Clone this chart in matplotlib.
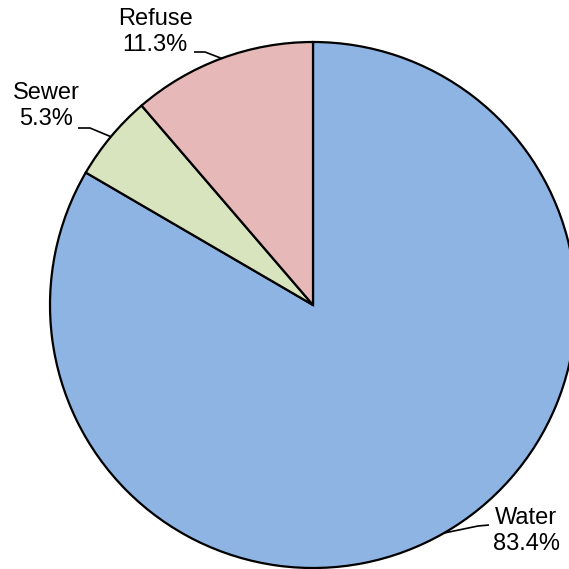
import numpy as np
import matplotlib
matplotlib.use("Agg")
import matplotlib.pyplot as plt

categories = ["Water", "Sewer", "Refuse"]
shares = [83.4, 5.3, 11.3]
colors = ["#8EB4E3", "#D7E4BD", "#E6B9B8"]

W = H = 569
CX, CY, R = 313, 305, 263  # pixel geometry of the pie

def px(x, y):
    return ((x - CX) / R, (CY - y) / R)

fig = plt.figure(figsize=(W / 100, H / 100), dpi=100)
ax = fig.add_axes([0, 0, 1, 1])

wedges, _ = ax.pie(shares, colors=colors, startangle=90, counterclock=False,
                   radius=1, center=(0, 0),
                   wedgeprops=dict(edgecolor="black", linewidth=1.6),
                   frame=True)
ax.set_aspect("equal")
ax.set_xlim(-CX / R, (W - CX) / R)
ax.set_ylim(-(H - CY) / R, CY / R)
ax.axis("off")

# label layout: text centre (px), elbow (px), horizontal end near text (px)
layout = {
    "Water": ((526, 531), (478, 526), (489, 525)),
    "Sewer": ((46, 106), (90, 128), (78, 128)),
    "Refuse": ((155, 32), (205, 52), (194, 52)),
}

for w, cat, val in zip(wedges, categories, shares):
    mid = np.deg2rad((w.theta1 + w.theta2) / 2)
    ex, ey = np.cos(mid), np.sin(mid)
    tpos, elbow, end = layout[cat]
    bx, by = px(*elbow)
    hx, hy = px(*end)
    ax.plot([ex, bx, hx], [ey, by, hy], color="black", lw=1.2,
            solid_capstyle="butt")
    tx, ty = px(*tpos)
    ax.text(tx, ty, f"{cat}\n{val:.1f}%", ha="center", va="center",
            fontsize=17, family=["Liberation Sans", "DejaVu Sans"],
            linespacing=1.25)

fig.savefig("out.png", dpi=100)
